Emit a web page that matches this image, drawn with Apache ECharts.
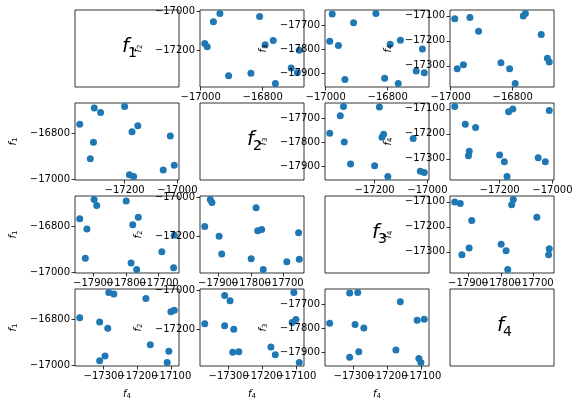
<!DOCTYPE html>
<html><head><meta charset="utf-8">
<script src="https://cdn.jsdelivr.net/npm/echarts@6/dist/echarts.min.js"></script>
<style>html,body{margin:0;padding:0;background:#fff}#c{width:574px;height:402px}</style>
</head><body><div id="c"></div>
<script>
// data: 13 observations of four variables
const f1 = [-16688, -16708, -16682, -16759, -16766, -16792, -16810, -16838, -16910, -16979, -16987, -16959, -16938];
const f2 = [-17315, -17291, -17200, -17370, -17150, -17172, -17027, -17318, -17330, -17182, -17166, -17054, -17012];
const f3 = [-17799, -17889, -17897, -17762, -17941, -17779, -17919, -17652, -17690, -17654, -17767, -17784, -17924];
const f4 = [-17270, -17175, -17285, -17091, -17101, -17371, -17312, -17288, -17162, -17312, -17112, -17296, -17107];
const ticks1 = [-17000, -16800];
const ticks2 = [-17200, -17000];
const ticks3 = [-17900, -17800, -17700];
const ticks4 = [-17300, -17200, -17100];
const varNames = ['1', '2', '3', '4'];

const vars = [f1, f2, f3, f4];
const ticks = [ticks1, ticks2, ticks3, ticks4];
const ranges = vars.map(v => {
  const mn = Math.min(...v), mx = Math.max(...v), m = (mx - mn) * 0.05;
  return [mn - m, mx + m];
});

const L0 = 75, CS = 125, W = 104, T0 = 10, RS = 93, H = 77;
const FONT = 'DejaVu Sans';
const fmt = v => String(v).replace('-', '\u2212');
const nameRich = {
  f: {fontSize: 10, fontStyle: 'italic', fontFamily: FONT, color: '#000'},
  s: {fontSize: 7, fontFamily: FONT, color: '#000', padding: [5, 0, 0, 0]}
};

const grid = [], xAxis = [], yAxis = [], series = [], graphic = [];
function axisBase(k, idx, diag, pos, labelVals, showTick) {
  return {
    type: 'value', gridIndex: idx, position: pos, offset: 0,
    min: ranges[k][0], max: ranges[k][1], show: !diag,
    splitLine: {show: false}, axisLine: {show: false},
    axisTick: {show: showTick, inside: false, length: 3.5, lineStyle: {color: '#000', width: 0.8}, customValues: ticks[k]},
    axisLabel: {show: labelVals.length > 0, margin: 5, fontSize: 10, fontFamily: FONT, color: '#000', formatter: fmt,
      customValues: labelVals, hideOverlap: false},
    z: 4
  };
}
for (let r = 0; r < 4; r++) {
  for (let c = 0; c < 4; c++) {
    const idx = grid.length;
    const left = L0 + c * CS, top = T0 + r * RS;
    grid.push({left, top, width: W, height: H, show: true, backgroundColor: '#fff',
      borderColor: '#000', borderWidth: 0.8, containLabel: false, outerBoundsMode: 'none'});
    const diag = r === c;
    const xEven = ticks[r].filter((_, i) => i % 2 === 0), xOdd = ticks[r].filter((_, i) => i % 2 === 1);
    const yEven = ticks[c].filter((_, i) => i % 2 === 0), yOdd = ticks[c].filter((_, i) => i % 2 === 1);
    const xa = axisBase(r, idx, diag, 'bottom', xEven, true);
    if (r === 3 && !diag) {
      xa.name = '{f|f}{s|' + varNames[r] + '}';
      xa.nameLocation = 'middle'; xa.nameGap = 22;
      xa.nameTextStyle = {rich: nameRich};
    }
    const ya = axisBase(c, idx, diag, 'left', yEven, true);
    if (!diag) {
      ya.name = '{f|f}{s|' + varNames[c] + '}';
      ya.nameLocation = 'middle'; ya.nameGap = 56; ya.nameRotate = 90;
      ya.nameTextStyle = {rich: nameRich};
    }
    const xi = xAxis.length, yi = yAxis.length;
    xAxis.push(xa); yAxis.push(ya);
    if (!diag) {
      if (xOdd.length) xAxis.push(axisBase(r, idx, false, 'bottom', xOdd, false));
      if (yOdd.length) yAxis.push(axisBase(c, idx, false, 'left', yOdd, false));
      series.push({type: 'scatter', xAxisIndex: xi, yAxisIndex: yi, symbolSize: 7,
        itemStyle: {color: '#1f77b4', opacity: 1}, silent: true,
        data: vars[r].map((v, i) => [v, vars[c][i]])});
    } else {
      const cx = left + W / 2, cy = top + H / 2;
      graphic.push({type: 'text', x: cx - 1.5, y: cy - 1.5, z: 10,
        style: {text: 'f', fontSize: 20, fontStyle: 'italic', fontFamily: FONT, fill: '#000', align: 'center', verticalAlign: 'middle'}});
      graphic.push({type: 'text', x: cx + 5.5, y: cy + 4.5, z: 10,
        style: {text: varNames[r], fontSize: 14, fontFamily: FONT, fill: '#000', align: 'center', verticalAlign: 'middle'}});
    }
  }
}

const chart = echarts.init(document.getElementById('c'), null, {renderer: 'canvas'});
chart.setOption({animation: false, backgroundColor: '#fff', grid, xAxis, yAxis, series, graphic});
</script></body></html>
